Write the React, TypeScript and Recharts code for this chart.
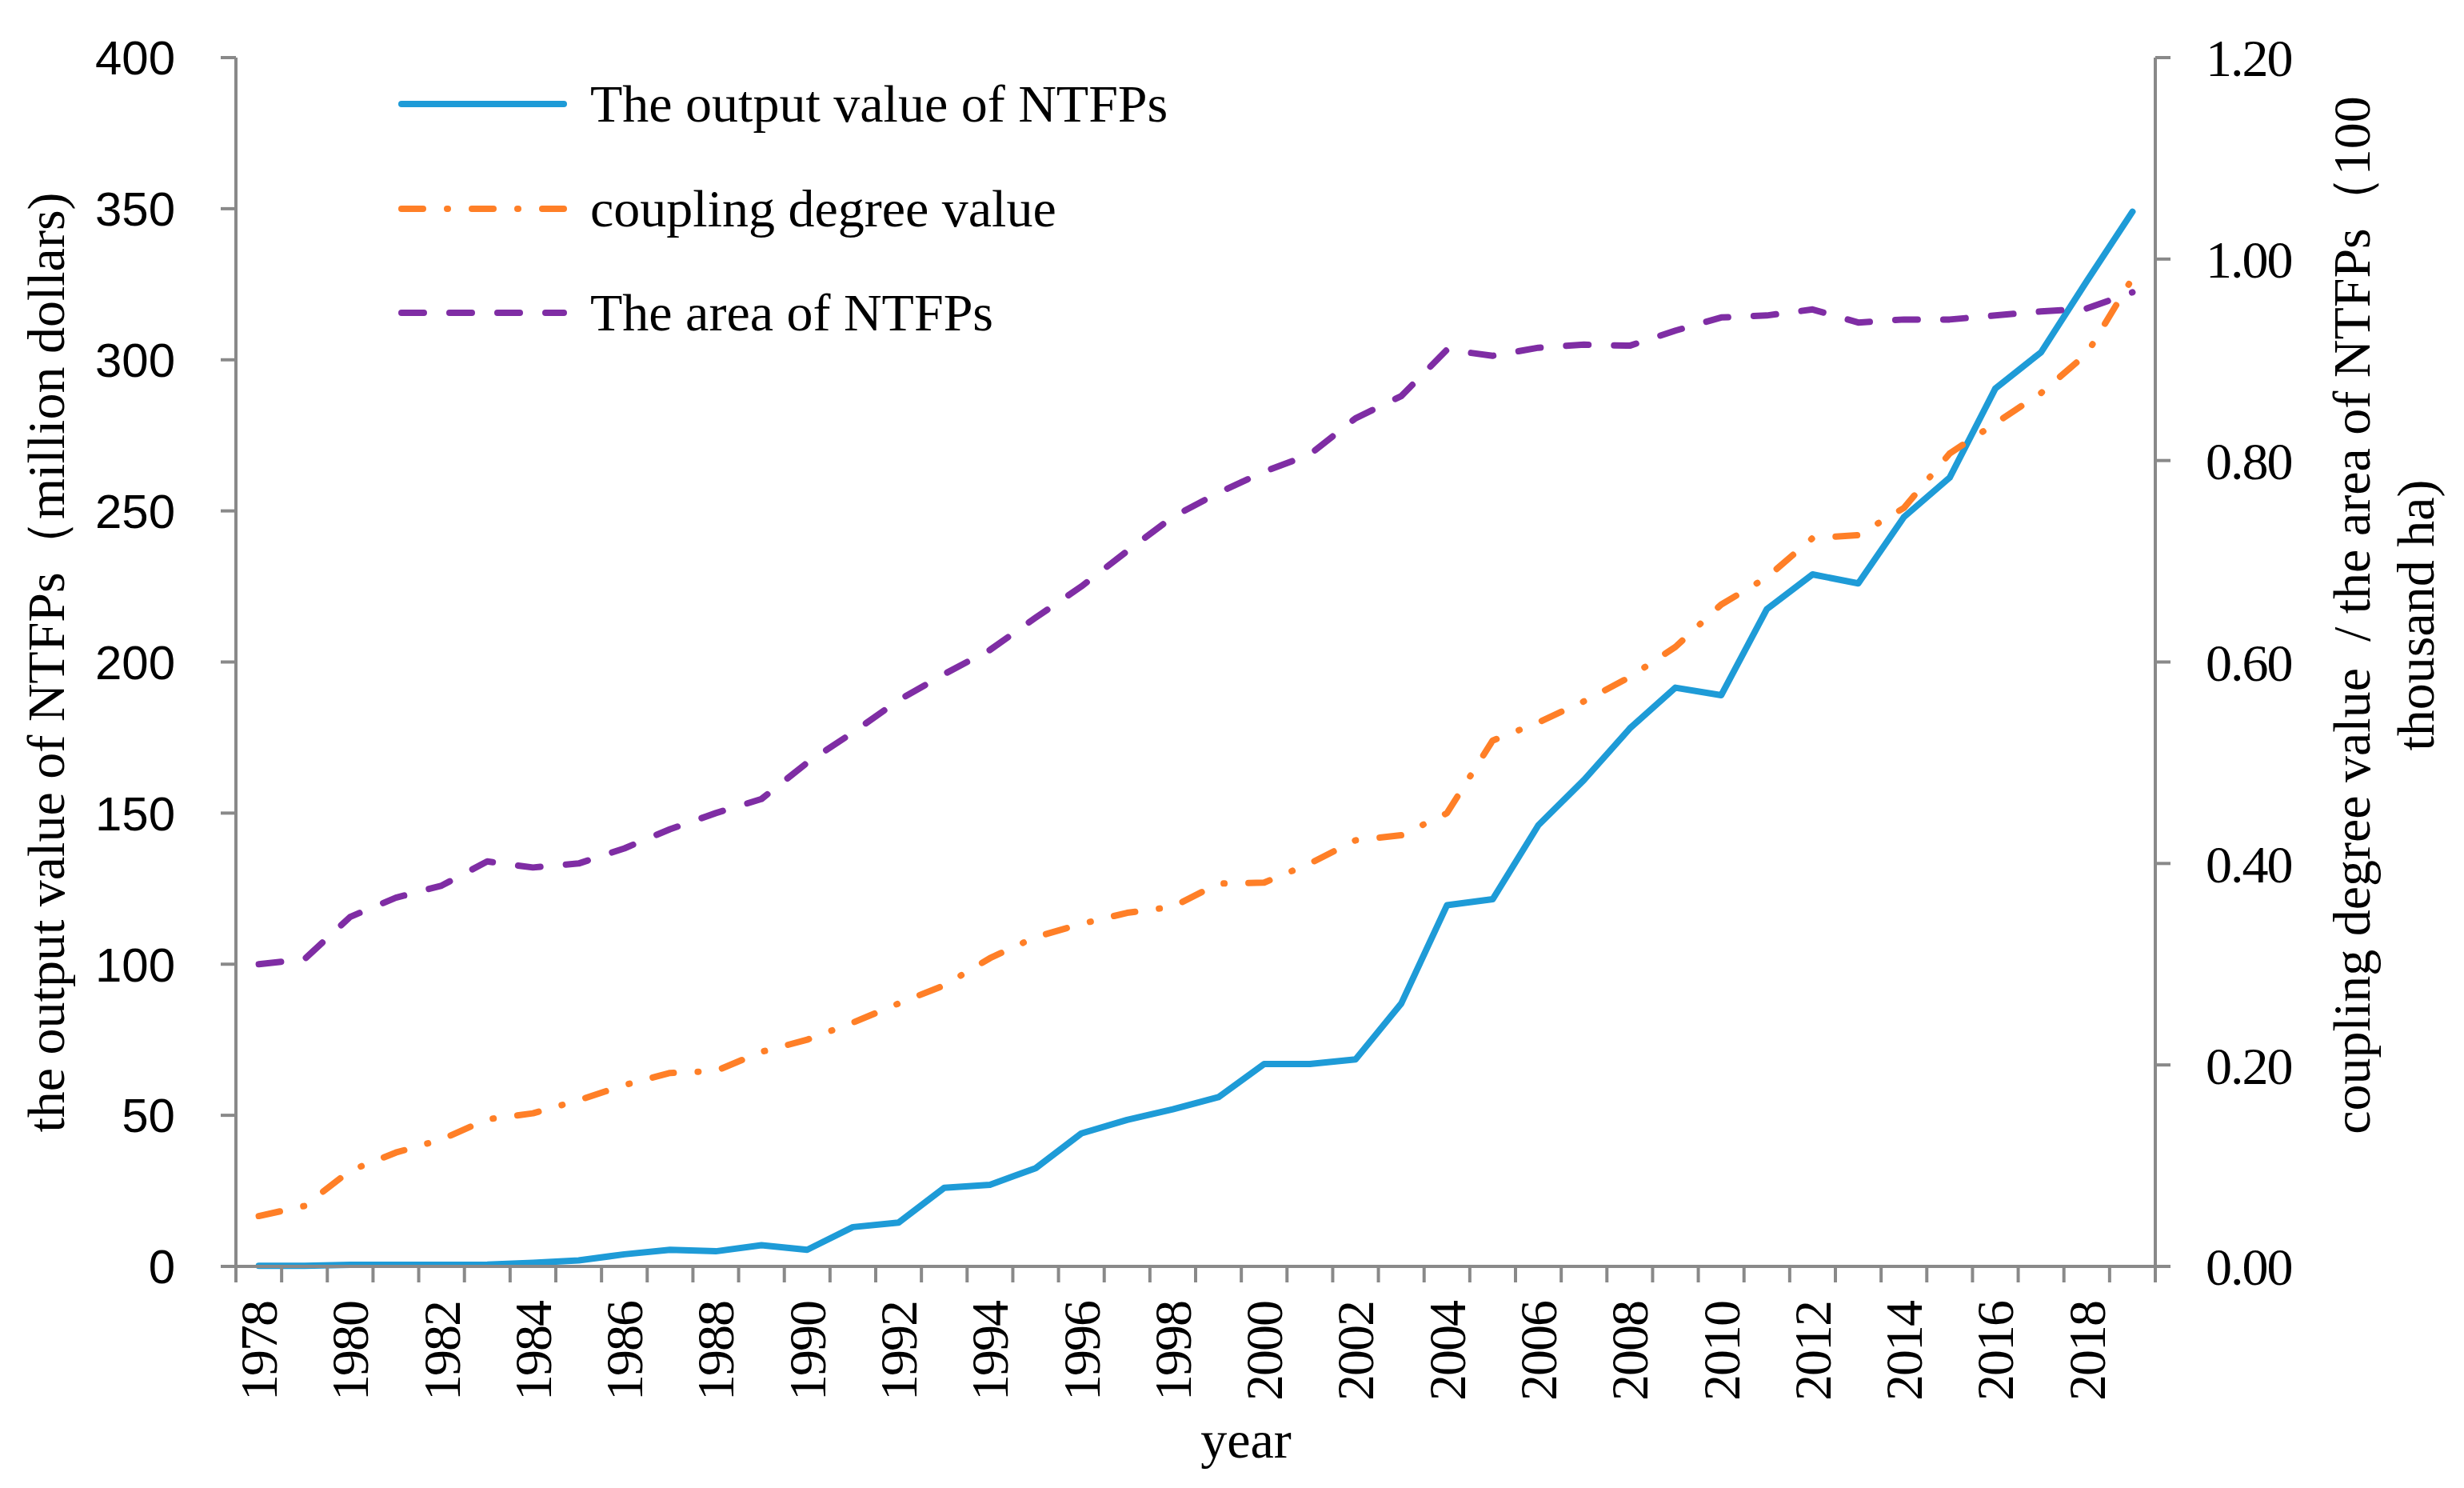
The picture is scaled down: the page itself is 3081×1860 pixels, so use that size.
import { LineChart, Line, XAxis, YAxis, Legend } from 'recharts';

const years = [
  1978, 1979, 1980, 1981, 1982, 1983, 1984, 1985, 1986, 1987, 1988, 1989, 1990, 1991,
  1992, 1993, 1994, 1995, 1996, 1997, 1998, 1999, 2000, 2001, 2002, 2003, 2004, 2005,
  2006, 2007, 2008, 2009, 2010, 2011, 2012, 2013, 2014, 2015, 2016, 2017, 2018, 2019,
];

// million dollars (left axis)
const outputValue = [
  0.2, 0.2, 0.5, 0.5, 0.5, 0.6, 1.2, 2, 4, 5.5, 5, 7, 5.5, 13,
  14.5, 26, 27, 32.5, 44, 48.5, 52, 56, 67, 67, 68.5, 87, 119.5, 121.5,
  146, 161, 178, 191.5, 189, 217.5, 229, 226, 248, 261, 290.5, 302.5, 326, 349,
];

// right axis
const couplingDegree = [
  0.05, 0.06, 0.095, 0.113, 0.126, 0.146, 0.152, 0.165, 0.18, 0.192, 0.194, 0.213, 0.225, 0.242,
  0.261, 0.279, 0.306, 0.327, 0.34, 0.351, 0.357, 0.38, 0.381, 0.4, 0.423, 0.428, 0.45, 0.522,
  0.54, 0.561, 0.585, 0.615, 0.657, 0.684, 0.723, 0.726, 0.753, 0.807, 0.837, 0.867, 0.906, 0.981,
];

// 100 thousand ha (right axis)
const ntfpArea = [
  0.3, 0.305, 0.347, 0.366, 0.378, 0.402, 0.396, 0.4, 0.415, 0.434, 0.45, 0.464, 0.5, 0.53,
  0.562, 0.588, 0.612, 0.644, 0.675, 0.71, 0.744, 0.768, 0.789, 0.806, 0.842, 0.864, 0.91, 0.904,
  0.912, 0.915, 0.914, 0.929, 0.942, 0.944, 0.95, 0.937, 0.94, 0.94, 0.944, 0.948, 0.951, 0.967,
];

const yearLabels = [
  1978, 1980, 1982, 1984, 1986, 1988, 1990, 1992, 1994, 1996, 1998,
  2000, 2002, 2004, 2006, 2008, 2010, 2012, 2014, 2016, 2018,
];
const leftTicks = [0, 50, 100, 150, 200, 250, 300, 350, 400];
const rightTicks = [0, 0.2, 0.4, 0.6, 0.8, 1.0, 1.2];

const SERIF = '"Liberation Serif", "Times New Roman", serif';
const SANS = '"Liberation Sans", Arial, sans-serif';
const AXIS = '#898989';

const SERIES = [
  { key: 'output', name: 'The output value of NTFPs', color: '#1E9BD7', dash: undefined, axis: 'left' },
  { key: 'coupling', name: 'coupling degree value', color: '#FF7F27', dash: '27 30 1 30', axis: 'right' },
  { key: 'area', name: 'The area of NTFPs', color: '#7F2DA4', dash: '28 32', axis: 'right' },
];

const data = years.map((year, i) => ({
  year,
  output: outputValue[i],
  coupling: couplingDegree[i],
  area: ntfpArea[i],
}));

// category boundaries, where the x axis tick marks sit
const bounds = [...years.map(y => y - 0.5), years[years.length - 1] + 0.5];
const xDomain = [bounds[0], bounds[bounds.length - 1]];

function YearTick({ x, y, payload }: any) {
  const top = y + 23;
  return (
    <text
      x={x}
      y={top}
      dy="0.34em"
      transform={`rotate(-90, ${x}, ${top})`}
      textAnchor="end"
      fontFamily={SERIF}
      fontSize={66}
      letterSpacing={-2}
      fill="#000"
    >
      {payload.value}
    </text>
  );
}

function renderLegend() {
  return (
    <div style={{ fontFamily: SERIF, fontSize: 66, color: '#000' }}>
      {SERIES.map(s => (
        <div key={s.key} style={{ display: 'flex', alignItems: 'center', height: 130.5 }}>
          <svg width={211} height={20} style={{ marginRight: 29, flexShrink: 0 }}>
            <line
              x1={4} y1={10} x2={207} y2={10}
              stroke={s.color}
              strokeWidth={8}
              strokeDasharray={s.dash}
              strokeLinecap="round"
            />
          </svg>
          <span style={{ whiteSpace: 'nowrap', lineHeight: 1 }}>{s.name}</span>
        </div>
      ))}
    </div>
  );
}

const leftTitle = () => (
  <text
    x={80}
    y={828}
    transform="rotate(-90, 80, 828)"
    textAnchor="middle"
    fontFamily={SERIF}
    fontSize={66}
    fill="#000"
  >
    the output value of NTFPs（million dollars)
  </text>
);

const rightTitle = () => (
  <g fontFamily={SERIF} fontSize={66} fill="#000" textAnchor="middle">
    <text x={2963} y={769} transform="rotate(-90, 2963, 769)" style={{ whiteSpace: 'pre' }}>
      coupling degree value  / the area of NTFPs（100
    </text>
    <text x={3043} y={769} transform="rotate(-90, 3043, 769)">
      thousand ha)
    </text>
  </g>
);

const yearTitle = () => (
  <text x={1558} y={1822} textAnchor="middle" fontFamily={SERIF} fontSize={66} fill="#000">
    year
  </text>
);

export default function App() {
  return (
    <div style={{ position: 'absolute', left: 0, top: 0, width: 3081, height: 1860, background: '#fff' }}>
      <LineChart width={3081} height={1860} data={data} margin={{ top: 72, right: 0, bottom: 0, left: 0 }}>
        <XAxis
          xAxisId="band"
          dataKey="year"
          type="number"
          domain={xDomain}
          ticks={bounds}
          interval={0}
          tickFormatter={() => ''}
          tickSize={20}
          height={21}
          axisLine={{ stroke: AXIS, strokeWidth: 4 }}
          tickLine={{ stroke: AXIS, strokeWidth: 4 }}
        />
        <XAxis
          xAxisId="year"
          dataKey="year"
          type="number"
          domain={xDomain}
          ticks={yearLabels}
          interval={0}
          tickSize={0}
          tickMargin={0}
          height={256}
          axisLine={false}
          tickLine={false}
          tick={(props: any) => <YearTick {...props} />}
          label={{ content: yearTitle }}
        />
        <YAxis
          yAxisId="left"
          width={295}
          domain={[0, 400]}
          ticks={leftTicks}
          interval={0}
          tickSize={19}
          tickMargin={57}
          axisLine={{ stroke: AXIS, strokeWidth: 4 }}
          tickLine={{ stroke: AXIS, strokeWidth: 4 }}
          tick={{ fill: '#000', fontSize: 60, fontFamily: SANS }}
          label={{ content: leftTitle }}
        />
        <YAxis
          yAxisId="right"
          orientation="right"
          width={386}
          domain={[0, 1.2]}
          ticks={rightTicks}
          interval={0}
          tickSize={19}
          tickMargin={44}
          tickFormatter={(v: number) => v.toFixed(2)}
          axisLine={{ stroke: AXIS, strokeWidth: 4 }}
          tickLine={{ stroke: AXIS, strokeWidth: 4 }}
          tick={{ fill: '#000', fontSize: 66, fontFamily: SERIF, letterSpacing: -2 }}
          label={{ content: rightTitle }}
        />
        <Legend
          content={renderLegend}
          layout="horizontal"
          verticalAlign="middle"
          align="center"
          wrapperStyle={{ left: 498, top: 65, width: 1100 }}
        />
        {SERIES.map(s => (
          <Line
            key={s.key}
            xAxisId="band"
            yAxisId={s.axis}
            dataKey={s.key}
            name={s.name}
            stroke={s.color}
            strokeWidth={8}
            strokeDasharray={s.dash}
            strokeLinecap="round"
            strokeLinejoin="round"
            dot={false}
            activeDot={false}
            isAnimationActive={false}
          />
        ))}
      </LineChart>
    </div>
  );
}
